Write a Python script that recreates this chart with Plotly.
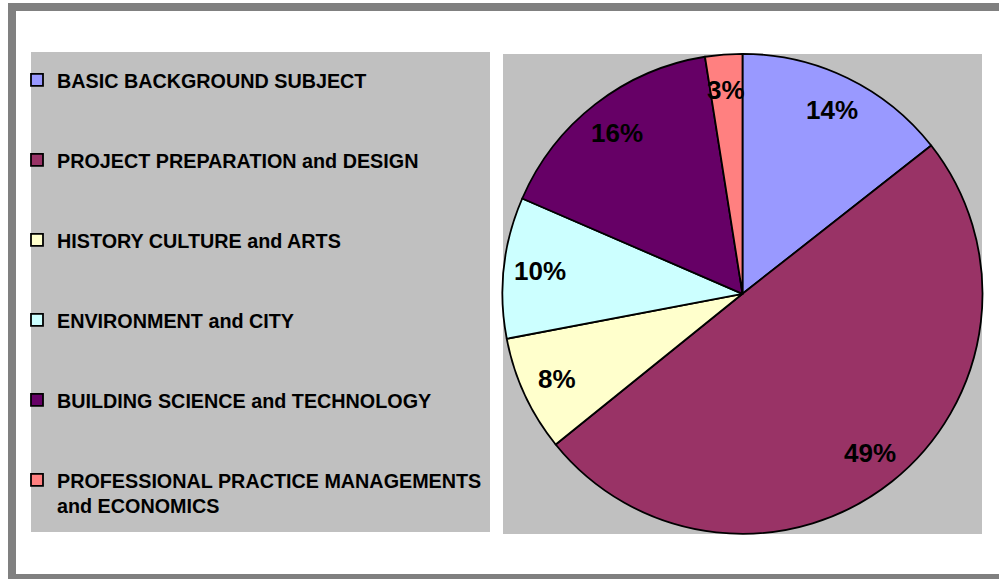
import math
import plotly.graph_objects as go

# ---------------- data ----------------
categories = [
    "BASIC BACKGROUND SUBJECT",
    "PROJECT PREPARATION and DESIGN",
    "HISTORY CULTURE and ARTS",
    "ENVIRONMENT and CITY",
    "BUILDING SCIENCE and TECHNOLOGY",
    "PROFESSIONAL PRACTICE MANAGEMENTS and ECONOMICS",
]
legend_text = [
    "BASIC BACKGROUND SUBJECT",
    "PROJECT PREPARATION and DESIGN",
    "HISTORY CULTURE and ARTS",
    "ENVIRONMENT and CITY",
    "BUILDING SCIENCE and TECHNOLOGY",
    "PROFESSIONAL PRACTICE MANAGEMENTS<br>and ECONOMICS",
]
values = [14.4, 49.8, 7.8, 9.5, 16.0, 2.5]
pct_labels = ["14%", "49%", "8%", "10%", "16%", "3%"]
colors = ["#9999FF", "#993366", "#FFFFCC", "#CCFFFF", "#660066", "#FF8080"]

# ---------------- layout constants ----------------
W, H = 999, 579
FONT = "Liberation Sans, Arial, sans-serif"
CX, CY, R = 742.5, 293.8, 240.0   # pie centre / radius in px
LABEL_R = 0.85


def px_x(x):
    return x / W


def px_y(y):
    return 1 - y / H


# pad legend entries to equal line count so entries are evenly spaced
def pad(t, n=3):
    lines = t.count("<br>") + 1
    return t + "<br> " * (n - lines) if lines < n else t


legend_names = [pad(t) if i < len(legend_text) - 1 else t for i, t in enumerate(legend_text)]

fig = go.Figure()
fig.add_trace(go.Pie(
    labels=legend_names,
    values=values,
    sort=False,
    direction="clockwise",
    rotation=0,
    marker=dict(colors=colors, line=dict(color="black", width=1.8)),
    textinfo="none",
    hoverinfo="label+percent",
    domain=dict(x=[px_x(CX - R), px_x(CX + R)], y=[px_y(CY + R), px_y(CY - R)]),
))

# percentage labels placed along each slice's mid angle
total = sum(values)
annotations = []
cum = 0.0
for v, lab in zip(values, pct_labels):
    mid = (cum + v / 2) / total
    cum += v
    th = 2 * math.pi * mid
    x = CX + LABEL_R * R * math.sin(th)
    y = CY - LABEL_R * R * math.cos(th)
    annotations.append(dict(
        x=px_x(x), y=px_y(y), xref="paper", yref="paper",
        text=lab, showarrow=False, xanchor="center", yanchor="middle",
        font=dict(family=FONT, size=26, color="black", weight="bold"),
    ))

shapes = [
    # outer frame
    dict(type="rect", xref="paper", yref="paper", x0=px_x(8), x1=px_x(1010), y0=px_y(3), y1=px_y(11),
         fillcolor="#808080", line=dict(width=0), layer="below"),
    dict(type="rect", xref="paper", yref="paper", x0=px_x(8), x1=px_x(16), y0=px_y(3), y1=px_y(590),
         fillcolor="#808080", line=dict(width=0), layer="below"),
    dict(type="rect", xref="paper", yref="paper", x0=px_x(8), x1=px_x(1010), y0=px_y(574), y1=px_y(590),
         fillcolor="#808080", line=dict(width=0), layer="below"),
    # legend box
    dict(type="rect", xref="paper", yref="paper", x0=px_x(31), x1=px_x(490), y0=px_y(52), y1=px_y(532),
         fillcolor="#C0C0C0", line=dict(width=0), layer="below"),
    # plot area
    dict(type="rect", xref="paper", yref="paper", x0=px_x(503), x1=px_x(982), y0=px_y(54), y1=px_y(534),
         fillcolor="#C0C0C0", line=dict(width=0), layer="below"),
]

fig.update_layout(
    width=W, height=H,
    margin=dict(l=0, r=0, t=0, b=0),
    paper_bgcolor="white",
    plot_bgcolor="white",
    showlegend=True,
    legend=dict(
        x=px_x(17), y=px_y(60.5), xanchor="left", yanchor="top",
        bgcolor="rgba(0,0,0,0)", borderwidth=0,
        font=dict(family=FONT, size=19.75, color="black", weight="bold"),
        valign="top", itemwidth=30, traceorder="normal",
    ),
    annotations=annotations,
    shapes=shapes,
)

fig.write_html("out.html")
